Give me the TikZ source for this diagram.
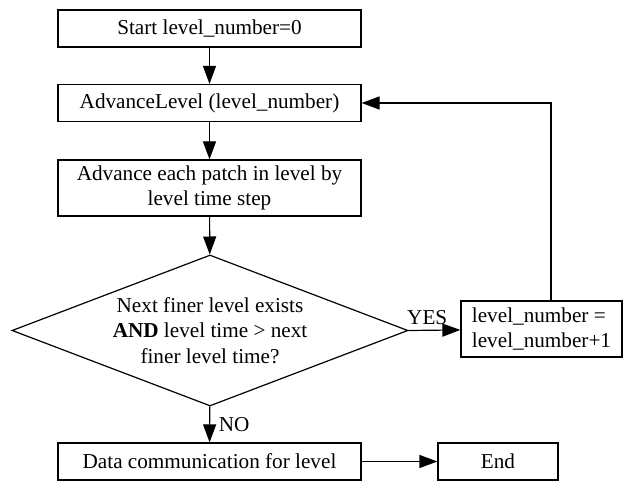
\documentclass[tikz,border=0pt]{standalone}
\usepackage{fontspec}
\setmainfont{Liberation Serif}
\usetikzlibrary{shapes.geometric,arrows.meta}

\begin{document}
\begin{tikzpicture}[
    x=0.5pt, y=-0.5pt,
    font=\fontsize{10.6pt}{12.8pt}\selectfont,
    line width=0.6pt,
    block/.style={rectangle, draw, minimum height=18.5pt, minimum width=151.5pt, inner sep=2pt, align=center},
    decision/.style={diamond, draw, aspect=2.6, minimum width=198pt, minimum height=75.5pt, inner sep=0pt, align=center},
    >={Triangle[length=9pt,width=6.5pt]}
]
    \useasboundingbox (0,0) rectangle (623,481);

    % Blocks
    \node[block] (start) at (209.5,28.5) {Start level\_number=0};
    \node[block] (advance) at (209.5,103) {AdvanceLevel (level\_number)};
    \node[block, minimum height=28pt] (patch) at (209.5,188) {Advance each patch in level by\\level time step};
    \node[decision] (finer) at (210,330.5) {Next finer level exists\\\textbf{AND} level time > next\\finer level time?};
    \node[block, minimum width=80.5pt, minimum height=28pt, align=left] (increment) at (541.5,329) {level\_number =\\level\_number+1};
    \node[block] (comm) at (209.5,461.5) {Data communication for level};
    \node[block, minimum width=60pt] (end) at (498,461.5) {End};

    % Forward path
    \draw[->] (start) -- (advance);
    \draw[->] (advance) -- (patch);
    \draw[->] (patch) -- (finer);
    \draw[->] (finer) -- node[right, xshift=1pt] {NO} (comm);
    \draw[->] (comm) -- (end);

    % Loop back
    \draw[->] (finer.east) -- node[above, pos=0.36, inner sep=2.5pt] {YES} (increment);
    \coordinate (loopturn) at (551,103);
    \draw[->] (loopturn |- increment.north) -- (loopturn) -- (advance.east);
\end{tikzpicture}
\end{document}
